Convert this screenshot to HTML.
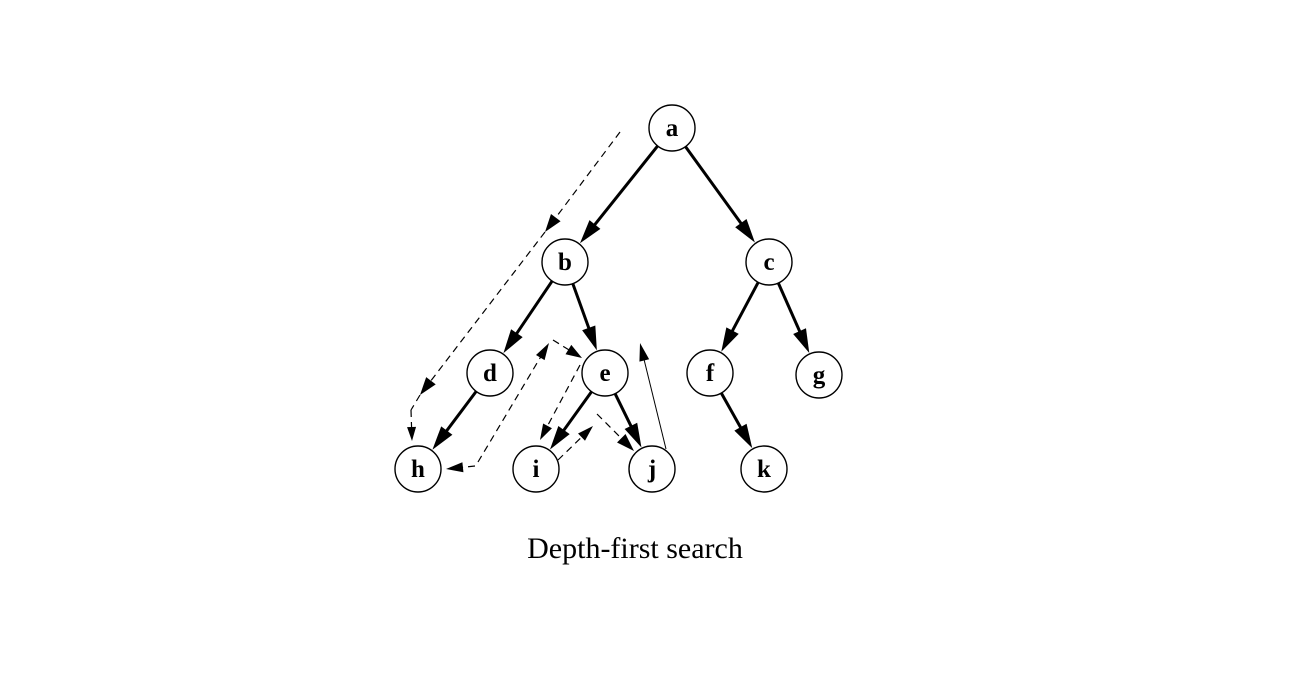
<!DOCTYPE html>
<html><head><meta charset="utf-8"><style>
html,body{margin:0;padding:0;background:#fff;width:1300px;height:700px;overflow:hidden}
svg{position:absolute;left:0;top:0}
text{font-family:"Liberation Serif",serif}
</style></head><body>
<svg id="s" width="1300" height="700" viewBox="0 0 1300 700">
<g id="edges"></g>
<g id="nodes"></g>
<text x="635" y="558" font-size="30" text-anchor="middle">Depth-first search</text>
</svg>
<script>
var N={a:[672,128],b:[565,262],c:[769,262],d:[490,373],e:[605,373],f:[710,373],g:[819,375],h:[418,469],i:[536,469],j:[652,469],k:[764,469]};
var R=23,ns="http://www.w3.org/2000/svg";
var E=document.getElementById('edges'),G=document.getElementById('nodes');
function el(t,a,p){var e=document.createElementNS(ns,t);for(var k in a)e.setAttribute(k,a[k]);(p||E).appendChild(e);return e;}
function head(x2,y2,ang,len,w){var c=Math.cos(ang),s=Math.sin(ang);var bx=x2-c*len,by=y2-s*len;
 el('polygon',{points:x2+','+y2+' '+(bx-s*w)+','+(by+c*w)+' '+(bx+s*w)+','+(by-c*w),fill:'#000'});}
function seg(x1,y1,x2,y2,opt){var a=Math.atan2(y2-y1,x2-x1);opt=opt||{};
 var hl=opt.hl||0;var ex=x2-Math.cos(a)*hl*0.8,ey=y2-Math.sin(a)*hl*0.8;
 el('line',{x1:x1,y1:y1,x2:ex,y2:ey,stroke:'#000','stroke-width':opt.w||1.2,'stroke-dasharray':opt.dash||'none'});
 if(hl)head(x2,y2,a,hl,opt.hw||4);}
function tree(p,q){var A=N[p],B=N[q];var a=Math.atan2(B[1]-A[1],B[0]-A[0]);
 seg(A[0]+Math.cos(a)*R,A[1]+Math.sin(a)*R,B[0]-Math.cos(a)*(R+1),B[1]-Math.sin(a)*(R+1),{w:3,hl:24,hw:7});}
[['a','b'],['a','c'],['b','d'],['b','e'],['c','f'],['c','g'],['d','h'],['e','i'],['e','j'],['f','k']].forEach(function(t){tree(t[0],t[1]);});
var D='7,5';
seg(620,132,545,232,{dash:D,hl:18,hw:6});
seg(545,232,420,395,{dash:D,hl:18,hw:6});
seg(420,395,411,410,{dash:D});
seg(411,410,412,441,{hl:14,hw:4.5,dash:D});
seg(475,466,446,469,{hl:17,hw:5,dash:D});
seg(478,462,549,343,{dash:D,hl:17,hw:5});
seg(553,340,582,358,{dash:D,hl:16,hw:5.5});
seg(580,365,540,440,{dash:D,hl:16,hw:5});
seg(558,460,593,426,{dash:D,hl:16,hw:5});
seg(597,414,634,451,{dash:D,hl:18,hw:6});
seg(666,449,640,343,{w:1,hl:18,hw:5});
for(var k in N){var p=N[k];el('circle',{cx:p[0],cy:p[1],r:R,fill:'#fff',stroke:'#000','stroke-width':1.4},G);
 var t=el('text',{x:p[0],y:p[1]+8,'font-size':25,'font-weight':'bold','text-anchor':'middle'},G);t.textContent=k;}
</script>
</body></html>
